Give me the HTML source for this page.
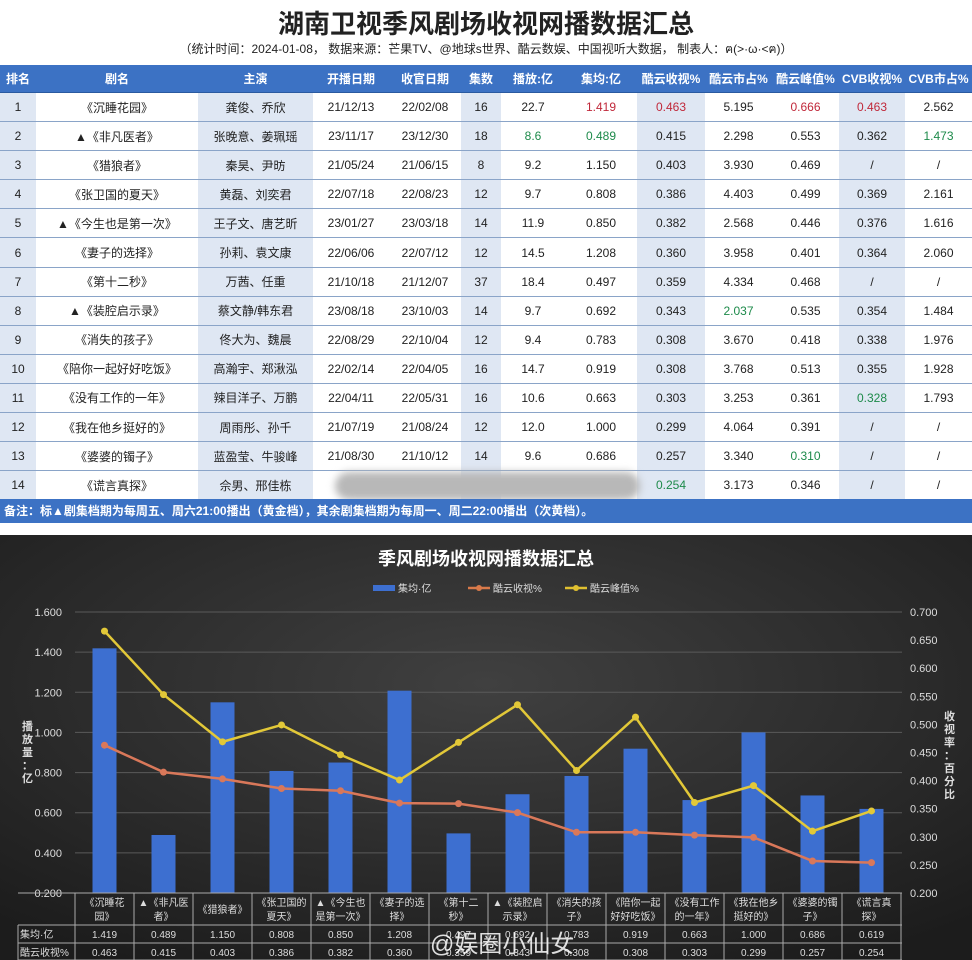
<!DOCTYPE html>
<html><head><meta charset="utf-8">
<style>
body{margin:0;width:972px;height:960px;overflow:hidden;background:#fff;font-family:"Liberation Sans","Noto Sans CJK SC",sans-serif;position:relative}
#title{position:absolute;top:4px;left:0;width:972px;text-align:center;font-size:26px;font-weight:bold;color:#222}
#sub{position:absolute;top:40px;left:0;width:972px;text-align:center;font-size:12px;color:#222}
table{position:absolute;top:65px;left:0;border-collapse:collapse;table-layout:fixed;width:972px}
th{background:#3c72c4;color:#fff;font-size:12px;height:27px;padding:0;font-weight:bold;border-bottom:1px solid #2a5aa0}
td{height:28.1px;padding:0;text-align:center;font-size:12px;color:#222;border-bottom:1px solid #8aa4c8}
td.s{background:#dfe7f3}
.r{color:#c0283a}.g{color:#1d8a4a}
#note{position:absolute;top:499px;left:0;width:972px;height:24px;background:#3c72c4;color:#fff;font-size:12px;font-weight:bold;line-height:24px;padding-left:4px;box-sizing:border-box}
#blur{position:absolute;left:335px;top:472px;width:305px;height:28px;background:#b8b8b8;border-radius:14px;filter:blur(4px)}
#chart{position:absolute;left:0;top:535px}
#wm{position:absolute;left:430px;top:924px;font-size:24px;color:#fff;opacity:.85}
</style></head><body>
<div id="title">湖南卫视季风剧场收视网播数据汇总</div>
<div id="sub">（统计时间：2024-01-08， 数据来源：芒果TV、@地球s世界、酷云数娱、中国视听大数据， 制表人：ฅ(&gt;·ω·&lt;ฅ)）</div>
<table>
<colgroup><col style="width:36px"><col style="width:162px"><col style="width:115px"><col style="width:76px"><col style="width:72px"><col style="width:40px"><col style="width:64px"><col style="width:72px"><col style="width:68px"><col style="width:67px"><col style="width:67px"><col style="width:66px"><col style="width:67px"></colgroup>
<thead><tr><th>排名</th><th>剧名</th><th>主演</th><th>开播日期</th><th>收官日期</th><th>集数</th><th>播放:亿</th><th>集均:亿</th><th>酷云收视%</th><th>酷云市占%</th><th>酷云峰值%</th><th>CVB收视%</th><th>CVB市占%</th></tr></thead>
<tbody id="tb"></tbody></table>
<div id="blur"></div>
<div id="note">备注：标▲剧集档期为每周五、周六21:00播出（黄金档），其余剧集档期为每周一、周二22:00播出（次黄档）。</div>
<svg id="chart" width="972" height="425"></svg>
<div id="wm">@娱圈小仙女</div>
<script>
const rows=[
["1","《沉睡花园》","龚俊、乔欣","21/12/13","22/02/08","16","22.7","1.419","0.463","5.195","0.666","0.463","2.562"],
["2","▲《非凡医者》","张晚意、姜珮瑶","23/11/17","23/12/30","18","8.6","0.489","0.415","2.298","0.553","0.362","1.473"],
["3","《猎狼者》","秦昊、尹昉","21/05/24","21/06/15","8","9.2","1.150","0.403","3.930","0.469","/","/"],
["4","《张卫国的夏天》","黄磊、刘奕君","22/07/18","22/08/23","12","9.7","0.808","0.386","4.403","0.499","0.369","2.161"],
["5","▲《今生也是第一次》","王子文、唐艺昕","23/01/27","23/03/18","14","11.9","0.850","0.382","2.568","0.446","0.376","1.616"],
["6","《妻子的选择》","孙莉、袁文康","22/06/06","22/07/12","12","14.5","1.208","0.360","3.958","0.401","0.364","2.060"],
["7","《第十二秒》","万茜、任重","21/10/18","21/12/07","37","18.4","0.497","0.359","4.334","0.468","/","/"],
["8","▲《装腔启示录》","蔡文静/韩东君","23/08/18","23/10/03","14","9.7","0.692","0.343","2.037","0.535","0.354","1.484"],
["9","《消失的孩子》","佟大为、魏晨","22/08/29","22/10/04","12","9.4","0.783","0.308","3.670","0.418","0.338","1.976"],
["10","《陪你一起好好吃饭》","高瀚宇、郑湫泓","22/02/14","22/04/05","16","14.7","0.919","0.308","3.768","0.513","0.355","1.928"],
["11","《没有工作的一年》","辣目洋子、万鹏","22/04/11","22/05/31","16","10.6","0.663","0.303","3.253","0.361","0.328","1.793"],
["12","《我在他乡挺好的》","周雨彤、孙千","21/07/19","21/08/24","12","12.0","1.000","0.299","4.064","0.391","/","/"],
["13","《婆婆的镯子》","蓝盈莹、牛骏峰","21/08/30","21/10/12","14","9.6","0.686","0.257","3.340","0.310","/","/"],
["14","《谎言真探》","佘男、邢佳栋","","","","","","0.254","3.173","0.346","/","/"]];
const shaded=[0,2,5,8,11];
const colored={"0-8":"r","0-10":"r","0-11":"r","0-7":"r","1-6":"g","1-7":"g","1-12":"g","7-9":"g","10-11":"g","12-10":"g","13-8":"g"};
const tb=document.getElementById('tb');
rows.forEach((r,i)=>{const tr=document.createElement('tr');


r.forEach((c,j)=>{const td=document.createElement('td');td.textContent=c;
if(shaded.includes(j))td.className='s';
if(colored[i+'-'+j])td.className+=' '+colored[i+'-'+j];
tr.appendChild(td);});tb.appendChild(tr);});

// chart data
const cats=["《沉睡花园》","▲《非凡医者》","《猎狼者》","《张卫国的夏天》","▲《今生也是第一次》","《妻子的选择》","《第十二秒》","▲《装腔启示录》","《消失的孩子》","《陪你一起好好吃饭》","《没有工作的一年》","《我在他乡挺好的》","《婆婆的镯子》","《谎言真探》"];
const catLines=[["《沉睡花","园》"],["▲《非凡医","者》"],["《猎狼者》"],["《张卫国的","夏天》"],["▲《今生也","是第一次》"],["《妻子的选","择》"],["《第十二","秒》"],["▲《装腔启","示录》"],["《消失的孩","子》"],["《陪你一起","好好吃饭》"],["《没有工作","的一年》"],["《我在他乡","挺好的》"],["《婆婆的镯","子》"],["《谎言真","探》"]];
const avgPlay=[1.419,0.489,1.150,0.808,0.850,1.208,0.497,0.692,0.783,0.919,0.663,1.000,0.686,0.619];
const kuyunRating=[0.463,0.415,0.403,0.386,0.382,0.360,0.359,0.343,0.308,0.308,0.303,0.299,0.257,0.254];
const kuyunPeak=[0.666,0.553,0.469,0.499,0.446,0.401,0.468,0.535,0.418,0.513,0.361,0.391,0.310,0.346];
const leftTicks=[0.2,0.4,0.6,0.8,1.0,1.2,1.4,1.6];
const rightTicks=[0.2,0.25,0.3,0.35,0.4,0.45,0.5,0.55,0.6,0.65,0.7];

const svg=document.getElementById('chart');const NS='http://www.w3.org/2000/svg';
function mk(t,a,p){const e=document.createElementNS(NS,t);for(const k in a)e.setAttribute(k,a[k]);(p||svg).appendChild(e);return e;}
const top0=77,bot=358; // svg coords (page y 612 / 893)
const yL=v=>bot-(v-0.2)/1.4*(bot-top0);
const yR=v=>bot-(v-0.2)/0.5*(bot-top0);
const x0=75,cw=59;const xC=i=>x0+cw*i+cw/2;
const defs=mk('defs',{});
const g=mk('radialGradient',{id:'bg',cx:'0.5',cy:'0.35',r:'0.75'},defs);
mk('stop',{offset:'0','stop-color':'#404040'},g);mk('stop',{offset:'1','stop-color':'#1c1c1c'},g);
const bg=mk('rect',{x:0,y:0,width:972,height:425,fill:'url(#bg)'});

let t=mk('text',{x:486,y:30,fill:'#fff','font-size':18,'text-anchor':'middle','font-weight':'bold'});t.textContent='季风剧场收视网播数据汇总';

// legend
const leg=[["集均·亿","#3d6fd0",0,373],["酷云收视%","#d97a4a",1,468],["酷云峰值%","#e0c030",1,565]];
leg.forEach(l=>{const gg=mk('g',{});

if(l[2]===0)mk('rect',{x:l[3],y:50,width:22,height:6,fill:l[1]},gg);else{mk('line',{x1:l[3],y1:53,x2:l[3]+22,y2:53,stroke:l[1],'stroke-width':2.5},gg);mk('circle',{cx:l[3]+11,cy:53,r:3,fill:l[1]},gg);}
const tx=mk('text',{x:l[3]+25,y:57,fill:'#ddd','font-size':10},gg);tx.textContent=l[0];});
// grid and ticks
leftTicks.forEach(v=>{const ln=mk('line',{x1:75,x2:902,y1:yL(v),y2:yL(v),stroke:'#5a5a5a','stroke-width':1});

const tx=mk('text',{x:62,y:yL(v)+4,fill:'#ddd','font-size':11,'text-anchor':'end'});tx.textContent=v.toFixed(3);
});
rightTicks.forEach(v=>{const tx=mk('text',{x:910,y:yR(v)+4,fill:'#ddd','font-size':11});tx.textContent=v.toFixed(3);
});
const lt=mk('text',{x:22,y:190,fill:'#ddd','font-size':11,'font-weight':'bold'});

"播放量：亿".split('').forEach((c,i)=>{const s=mk('tspan',{x:22,y:195+i*13},lt);s.textContent=c;});
const rt=mk('text',{x:944,y:180,fill:'#ddd','font-size':11,'font-weight':'bold'});

"收视率：百分比".split('').forEach((c,i)=>{const s=mk('tspan',{x:944,y:185+i*13},rt);s.textContent=c;});
// bars
avgPlay.forEach((v,i)=>{const b=mk('rect',{x:xC(i)-12,y:yL(v),width:24,height:bot-yL(v),fill:'#3d6fd0'});
});
function line(arr,col,name){const p=mk('polyline',{points:arr.map((v,i)=>xC(i)+','+yR(v)).join(' '),fill:'none',stroke:col,'stroke-width':2.5});

arr.forEach((v,i)=>{const c=mk('circle',{cx:xC(i),cy:yR(v),r:3.5,fill:col});
});}
line(kuyunRating,'#d9785a','line-kuyun-rating');
line(kuyunPeak,'#e2c838','line-kuyun-peak');
// data table
const dt=mk('g',{});
const ys=[358,390,408,425];
ys.forEach(y=>mk('line',{x1:18,x2:902,y1:y,y2:y,stroke:'#aaa','stroke-width':1},dt));
for(let i=0;i<=14;i++)mk('line',{x1:x0+cw*i,x2:x0+cw*i,y1:358,y2:425,stroke:'#aaa','stroke-width':1},dt);
mk('line',{x1:18,x2:18,y1:390,y2:425,stroke:'#aaa'},dt);
catLines.forEach((ls,i)=>{const off=ls.length===1?378:371;ls.forEach((s,k)=>{const tx=mk('text',{x:xC(i),y:off+k*14,fill:'#ddd','font-size':10,'text-anchor':'middle'},dt);tx.textContent=s;});});
[["集均·亿",avgPlay],["酷云收视%",kuyunRating]].forEach((r,k)=>{const y=ys[k+1]+13;
const h=mk('text',{x:20,y:y,fill:'#ddd','font-size':10},dt);h.textContent=r[0];
r[1].forEach((v,i)=>{const tx=mk('text',{x:xC(i),y:y,fill:'#ddd','font-size':10,'text-anchor':'middle'},dt);tx.textContent=v.toFixed(3);});});
</script>
</body></html>
